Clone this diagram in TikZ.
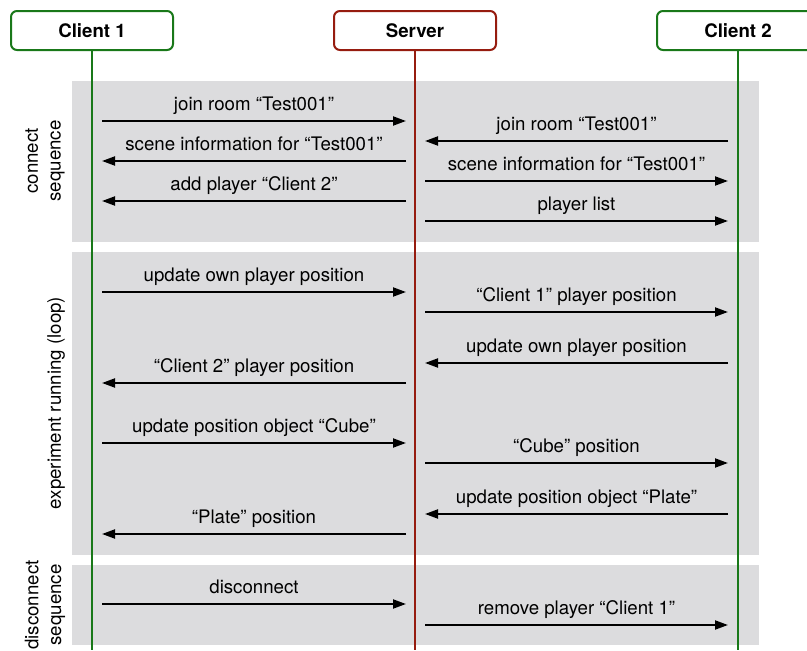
\documentclass[tikz,border=0pt]{standalone}
\usepackage{fontspec}
\setmainfont{TeX Gyre Heros}
\usetikzlibrary{arrows.meta}
\definecolor{clientgreen}{RGB}{25,120,25}
\definecolor{serverred}{RGB}{150,28,15}
\definecolor{panelgray}{RGB}{220,220,222}
\begin{document}
\begin{tikzpicture}[x=0.75pt,y=-0.75pt,
    font=\fontsize{14}{17}\selectfont,
    head/.style={draw,line width=1.5pt,rounded corners=4.5pt,fill=white,
      minimum width=121.5pt,minimum height=29.25pt,
      font=\fontsize{14}{17}\selectfont\bfseries},
    life/.style={line width=1.5pt},
    msg/.style={line width=1.5pt,-{Triangle[length=9.75pt,width=6.75pt]}},
    side/.style={rotate=90,align=center}]
  \useasboundingbox (0,0) rectangle (807,650);
  \clip (0,0) rectangle (807,650);
  % phases
  \fill[panelgray] (72,81) rectangle (759,242);
  \fill[panelgray] (72,252) rectangle (759,555);
  \fill[panelgray] (72,565) rectangle (759,645);
  \node[side] (ph1) at (45,161) {connect\\sequence};
  \node[side] (ph2) at (56,403) {experiment running (loop)};
  \node[side] (ph3) at (45,605) {disconnect\\sequence};
  % participants
  \node[head,draw=clientgreen] (c1) at (92,30.5) {Client 1};
  \node[head,draw=serverred] (srv) at (415,30.5) {Server};
  \node[head,draw=clientgreen] (c2) at (738,30.5) {Client 2};
  \coordinate (bottom) at (0,650);
  \draw[life,clientgreen] (c1.south) -- (c1.south |- bottom);
  \draw[life,serverred] (srv.south) -- (srv.south |- bottom);
  \draw[life,clientgreen] (c2.south) -- (c2.south |- bottom);
  % client 1 <-> server
  \foreach \i/\y/\from/\to/\txt in {
      1/121/a/b/join room “Test001”,
      2/161/b/a/scene information for “Test001”,
      3/201/b/a/add player “Client 2”,
      4/292/a/b/update own player position,
      5/383/b/a/“Client 2” player position,
      6/443/a/b/update position object “Cube”,
      7/534/b/a/“Plate” position,
      8/604/a/b/disconnect} {
    \coordinate (a\i) at (102,\y);
    \coordinate (b\i) at (406,\y);
    \draw[msg] (\from\i) -- (\to\i)
      node[midway,anchor=base,yshift=8.25pt] {\txt};
  }
  % server <-> client 2
  \foreach \i/\y/\from/\to/\txt in {
      1/141/q/p/join room “Test001”,
      2/181/p/q/scene information for “Test001”,
      3/221/p/q/player list,
      4/312/p/q/“Client 1” player position,
      5/363/q/p/update own player position,
      6/463/p/q/“Cube” position,
      7/514/q/p/update position object “Plate”,
      8/625/p/q/remove player “Client 1”} {
    \coordinate (p\i) at (425,\y);
    \coordinate (q\i) at (728,\y);
    \draw[msg] (\from\i) -- (\to\i)
      node[midway,anchor=base,yshift=8.25pt] {\txt};
  }
\end{tikzpicture}
\end{document}
